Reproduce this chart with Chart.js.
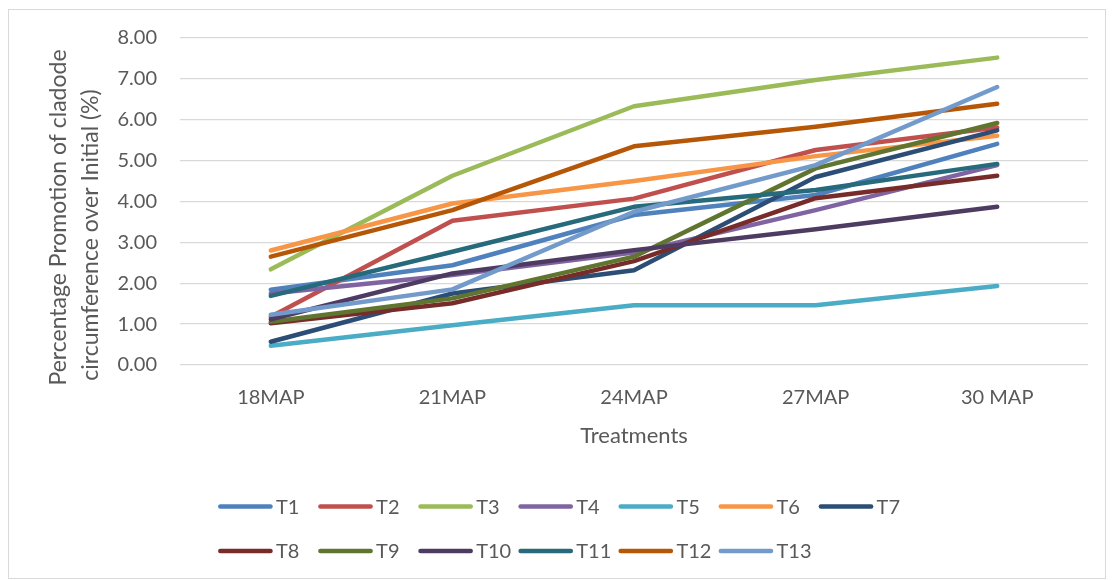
<!DOCTYPE html>
<html>
<head>
<meta charset="utf-8">
<script src="https://cdn.jsdelivr.net/npm/chart.js@4/dist/chart.umd.min.js"></script>
<style>
  html, body { margin: 0; padding: 0; background: #ffffff; }
  #wrap { width: 1113px; height: 580px; }
</style>
</head>
<body>
<div id="wrap"><canvas id="c" width="1113" height="580"></canvas></div>
<script>
// Months after planting (x categories)
const categories = ['18MAP', '21MAP', '24MAP', '27MAP', '30 MAP'];

// Percentage promotion of cladode circumference over initial, per treatment
const T1  = [1.84, 2.44, 3.67, 4.16, 5.41];
const T2  = [1.18, 3.53, 4.07, 5.26, 5.81];
const T3  = [2.34, 4.63, 6.33, 6.97, 7.52];
const T4  = [1.75, 2.20, 2.75, 3.79, 4.89];
const T5  = [0.47, 0.97, 1.46, 1.46, 1.93];
const T6  = [2.80, 3.95, 4.50, 5.11, 5.61];
const T7  = [0.57, 1.75, 2.32, 4.60, 5.74];
const T8  = [1.02, 1.51, 2.54, 4.08, 4.63];
const T9  = [1.06, 1.63, 2.65, 4.81, 5.92];
const T10 = [1.12, 2.24, 2.81, 3.32, 3.87];
const T11 = [1.69, 2.77, 3.87, 4.28, 4.92];
const T12 = [2.65, 3.79, 5.35, 5.83, 6.39];
const T13 = [1.23, 1.85, 3.75, 4.89, 6.80];

const seriesNames = ['T1','T2','T3','T4','T5','T6','T7','T8','T9','T10','T11','T12','T13'];
const seriesValues = [T1, T2, T3, T4, T5, T6, T7, T8, T9, T10, T11, T12, T13];
const seriesColors = ['#4F81BD','#C0504D','#9BBB59','#8064A2','#4BACC6','#F79646',
                      '#2C4D75','#772C2A','#5F7530','#4D3B62','#276A7C','#B65708','#729ACA'];

const yTicks = [0, 1, 2, 3, 4, 5, 6, 7, 8];
const yTitleLines = ['Percentage Promotion of cladode', 'circumference over Initial (%)'];
const xTitle = 'Treatments';

const FONT = 'Lato, "Open Sans", "DejaVu Sans", sans-serif';
const TEXT = '#595959';
Chart.defaults.font.family = FONT;
Chart.defaults.color = TEXT;

// Outer frame and the two-line rotated y title
const framePlugin = {
  id: 'frame',
  beforeDraw(chart) {
    const ctx = chart.ctx;
    ctx.save();
    ctx.fillStyle = '#ffffff';
    ctx.fillRect(0, 0, chart.width, chart.height);
    ctx.strokeStyle = '#d9d9d9';
    ctx.lineWidth = 1;
    ctx.strokeRect(8.5, 9.5, 1097, 569);
    ctx.restore();
  },
  afterDraw(chart) {
    const ctx = chart.ctx;
    ctx.save();
    ctx.fillStyle = TEXT;
    ctx.font = '23px ' + FONT;
    ctx.textAlign = 'center';
    ctx.textBaseline = 'middle';
    const centers = [[59, 217.5], [91, 235]];
    yTitleLines.forEach((line, i) => {
      ctx.save();
      ctx.translate(centers[i][0], centers[i][1]);
      ctx.rotate(-Math.PI / 2);
      ctx.fillText(line, 0, 0);
      ctx.restore();
    });
    ctx.restore();
  }
};

// Legend laid out on a fixed grid of columns, two rows
const gridLegend = {
  id: 'gridLegend',
  afterDraw(chart) {
    const ctx = chart.ctx;
    ctx.save();
    ctx.font = '20px ' + FONT;
    ctx.textBaseline = 'middle';
    ctx.textAlign = 'left';
    chart.data.datasets.forEach((ds, i) => {
      const row = i < 7 ? 0 : 1;
      const col = i < 7 ? i : i - 7;
      const x = 218 + col * 100.1;
      const y = row === 0 ? 506.5 : 551;
      ctx.strokeStyle = ds.borderColor;
      ctx.lineWidth = 4.5;
      ctx.lineCap = 'round';
      ctx.beginPath();
      ctx.moveTo(x + 2.3, y);
      ctx.lineTo(x + 52.5, y);
      ctx.stroke();
      ctx.fillStyle = TEXT;
      ctx.fillText(ds.label, x + 58, y + 1);
    });
    ctx.restore();
  }
};

const datasets = seriesNames.map((name, i) => ({
  label: name,
  data: seriesValues[i],
  borderColor: seriesColors[i],
  backgroundColor: seriesColors[i],
  borderWidth: 4.5,
  borderCapStyle: 'round',
  borderJoinStyle: 'round',
  pointRadius: 0,
  pointHoverRadius: 0,
  tension: 0,
  fill: false,
  order: seriesNames.length - i
}));

new Chart(document.getElementById('c'), {
  type: 'line',
  data: { labels: categories, datasets },
  options: {
    responsive: false,
    animation: false,
    events: [],
    layout: { padding: { left: 0, right: 25, top: 38, bottom: 115 } },
    plugins: {
      legend: { display: false },
      tooltip: { enabled: false },
      title: { display: false }
    },
    scales: {
      x: {
        offset: true,
        grid: { display: false, drawTicks: false },
        border: { display: false },
        ticks: { font: { size: 20 }, color: TEXT, padding: 21, maxRotation: 0, autoSkip: false },
        title: { display: true, text: xTitle, font: { size: 22 }, color: TEXT, padding: { top: 0, bottom: 16 } },
        afterFit(scale) { scale.height = 100; }
      },
      y: {
        min: 0,
        max: 8,
        afterBuildTicks(scale) { scale.ticks = yTicks.map(v => ({ value: v })); },
        grid: { color: '#d9d9d9', lineWidth: 1.3, drawTicks: false },
        border: { display: false },
        ticks: {
          font: { size: 20 },
          color: TEXT,
          padding: 23,
          callback: v => Number(v).toFixed(2)
        },
        afterFit(scale) { scale.width = 180; }
      }
    }
  },
  plugins: [framePlugin, gridLegend]
});
</script>
</body>
</html>
